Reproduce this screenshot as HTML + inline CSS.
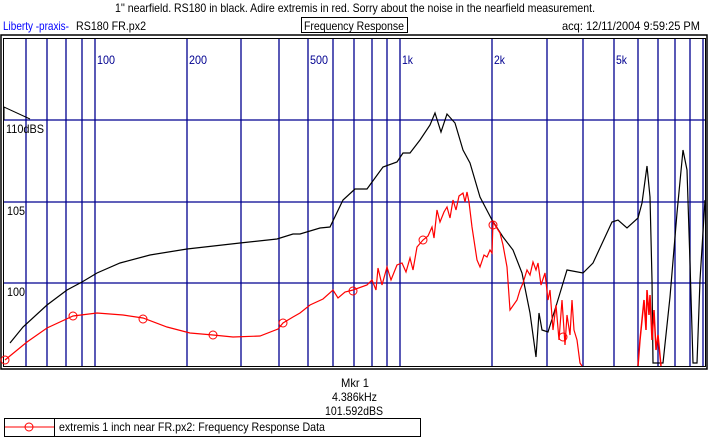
<!DOCTYPE html>
<html><head><style>
body{margin:0;background:#fff;}
svg text{font-family:"Liberation Sans",Arial,sans-serif;font-size:12px;}
</style></head><body>
<svg width="709" height="441" viewBox="0 0 709 441" xmlns="http://www.w3.org/2000/svg">
<rect width="709" height="441" fill="#fff"/>
<text x="115" y="12" textLength="480" lengthAdjust="spacingAndGlyphs">1'' nearfield. RS180 in black. Adire extremis in red. Sorry about the noise in the nearfield measurement.</text>
<text x="3" y="30" fill="#0000ff" textLength="66" lengthAdjust="spacingAndGlyphs">Liberty -praxis-</text>
<text x="76" y="30" textLength="70" lengthAdjust="spacingAndGlyphs">RS180 FR.px2</text>
<rect x="301.5" y="17.5" width="106" height="15" fill="none" stroke="#000"/>
<text x="304" y="30" textLength="100" lengthAdjust="spacingAndGlyphs">Frequency Response</text>
<text x="562" y="30" textLength="138" lengthAdjust="spacingAndGlyphs">acq: 12/11/2004 9:59:25 PM</text>
<rect x="1" y="35" width="706" height="334" fill="none" stroke="#000" stroke-width="1.5"/>
<rect x="3.5" y="38.5" width="702" height="328" fill="none" stroke="#000"/>
<g stroke="#000090" stroke-width="1.3">
<line x1="26" y1="39" x2="26" y2="366"/><line x1="47" y1="39" x2="47" y2="366"/><line x1="66" y1="39" x2="66" y2="366"/><line x1="82" y1="39" x2="82" y2="366"/><line x1="95" y1="39" x2="95" y2="366"/>
<line x1="187" y1="39" x2="187" y2="366"/><line x1="241" y1="39" x2="241" y2="366"/><line x1="279" y1="39" x2="279" y2="366"/><line x1="308" y1="39" x2="308" y2="366"/><line x1="333" y1="39" x2="333" y2="366"/><line x1="354" y1="39" x2="354" y2="366"/><line x1="372" y1="39" x2="372" y2="366"/><line x1="387" y1="39" x2="387" y2="366"/><line x1="400" y1="39" x2="400" y2="366"/>
<line x1="492" y1="39" x2="492" y2="366"/><line x1="547" y1="39" x2="547" y2="366"/><line x1="583" y1="39" x2="583" y2="366"/><line x1="614" y1="39" x2="614" y2="366"/><line x1="638" y1="39" x2="638" y2="366"/><line x1="658" y1="39" x2="658" y2="366"/><line x1="675" y1="39" x2="675" y2="366"/><line x1="690" y1="39" x2="690" y2="366"/><line x1="703" y1="39" x2="703" y2="366"/>
<line x1="4" y1="120" x2="705" y2="120"/><line x1="4" y1="202" x2="705" y2="202"/><line x1="4" y1="283" x2="705" y2="283"/>
</g>
<g fill="#000090"><text x="97" y="64" textLength="18" lengthAdjust="spacingAndGlyphs">100</text><text x="189" y="64" textLength="18" lengthAdjust="spacingAndGlyphs">200</text><text x="310" y="64" textLength="18" lengthAdjust="spacingAndGlyphs">500</text><text x="402" y="64" textLength="11" lengthAdjust="spacingAndGlyphs">1k</text><text x="494" y="64" textLength="11" lengthAdjust="spacingAndGlyphs">2k</text><text x="616" y="64" textLength="11" lengthAdjust="spacingAndGlyphs">5k</text></g>
<text x="6" y="133" textLength="38" lengthAdjust="spacingAndGlyphs">110dBS</text><text x="7" y="215" textLength="18" lengthAdjust="spacingAndGlyphs">105</text><text x="7" y="296" textLength="18" lengthAdjust="spacingAndGlyphs">100</text>
<polyline fill="none" stroke="#000" stroke-width="1" points="4,120 4,107 30,119"/>
<polyline fill="none" stroke="#000" stroke-width="1.2" points="10,343 23,327 47,305 67,290 82,282 97,273 120,263 150,255 187,249 240,243 277,239 293,234 300,234 320,228 330,227 343,200 355,189 367,189 383,167 397,162 403,153 410,153 420,140 430,125 435,113 441,132 447,114 455,123 463,150 470,163 480,197 492,220 503,237 513,250 522,273 530,313 536,357 539,313 542,330 548,332 557,303 567,270 583,273 593,263 612,222 618,220 627,228 638,218 642,203 647,166 650,197 652,280 653,363 663,363 670,297 677,213 683,150 687,170 690,263 693,363 697,363 700,280 705,200"/>
<polyline fill="none" stroke="#f00" stroke-width="1.2" points="5,360 27,342 47,328 73,316 97,313 123,315 143,318 167,327 190,333 213,335 233,337 260,336 278,329 283,323 293,317 300,313 310,305 323,299 333,290 338,298 345,292 353,290 367,285 372,280 376,290 378,268 382,285 387,267 391,280 397,265 402,263 406,272 410,258 413,270 417,247 423,240 428,236 432,227 434,238 437,210 440,222 444,212 447,207 450,218 453,200 456,210 459,196 463,193 465,202 467,192 469,202 472,227 477,260 480,267 484,255 487,257 490,250 492,253 493,222 500,233 503,245 507,267 510,310 517,300 520,290 523,283 527,270 530,275 533,262 536,270 538,263 541,285 545,273 548,300 550,290 553,330 556,305 559,340 562,300 565,345 567,315 570,335 572,300 574,330 577,340 580,363 582,366"/>
<polyline fill="none" stroke="#f00" stroke-width="1.5" points="638,366 640,340 642,320 644,300 646,330 647,290 649,315 650,295 652,340 654,310 656,350 658,335 661,366"/>
<g fill="none" stroke="#f00" stroke-width="1"><circle cx="5" cy="360" r="4"/><circle cx="73" cy="316" r="4"/><circle cx="143" cy="319" r="4"/><circle cx="213" cy="335" r="4"/><circle cx="283" cy="323" r="4"/><circle cx="353" cy="291" r="4"/><circle cx="423" cy="240" r="4"/><circle cx="493" cy="225" r="4"/><circle cx="563" cy="337" r="4"/></g>
<text x="341" y="387" textLength="28" lengthAdjust="spacingAndGlyphs">Mkr 1</text>
<text x="332" y="401" textLength="45" lengthAdjust="spacingAndGlyphs">4.386kHz</text>
<text x="325" y="415" textLength="58" lengthAdjust="spacingAndGlyphs">101.592dBS</text>
<rect x="4.5" y="418.5" width="416" height="18" fill="none" stroke="#000"/>
<line x1="54.5" y1="418" x2="54.5" y2="437" stroke="#000"/>
<line x1="5" y1="427" x2="54" y2="427" stroke="#f00"/>
<circle cx="29" cy="427" r="4" fill="none" stroke="#f00"/>
<text x="59" y="431" textLength="266" lengthAdjust="spacingAndGlyphs">extremis 1 inch near FR.px2:  Frequency Response Data</text>
</svg>
</body></html>
